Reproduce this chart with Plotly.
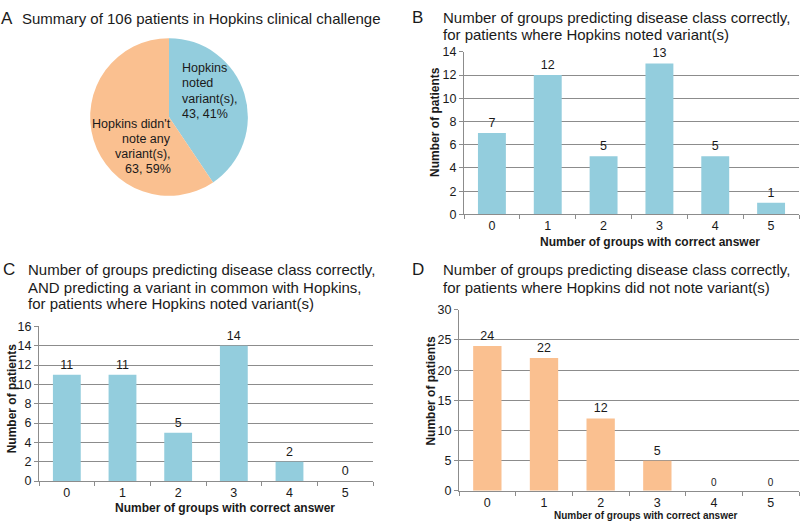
import plotly.graph_objects as go

# ---------------- data ----------------
pie_labels = ["Hopkins noted variant(s)", "Hopkins didn't note any variant(s)"]
pie_values = [43, 63]

categories = ["0", "1", "2", "3", "4", "5"]
b_values = [7, 12, 5, 13, 5, 1]
c_values = [11, 11, 5, 14, 2, 0]
d_values = [24, 22, 12, 5, 0, 0]

b_ticks = [0, 2, 4, 6, 8, 10, 12, 14]
c_ticks = [0, 2, 4, 6, 8, 10, 12, 14, 16]
d_ticks = [0, 5, 10, 15, 20, 25, 30]

BLUE = "#93CDDD"
ORANGE = "#FAC090"
GRID = "#8c8c8c"
TXT = "#1a1a1a"
FONT = "Liberation Sans, Arial, Helvetica, sans-serif"

W, H = 800, 529


def px(x):
    return x / W


def py(y):
    return 1 - y / H


fig = go.Figure()

# pie
fig.add_trace(go.Pie(
    labels=pie_labels, values=pie_values, sort=False, direction="clockwise",
    rotation=0, marker=dict(colors=[BLUE, ORANGE], line=dict(width=0)),
    textinfo="none", hoverinfo="label+value+percent", showlegend=False,
    domain=dict(x=[px(88), px(250)], y=[py(194), py(32)]),
))

# bars
def add_bar(vals, color, xa, ya, tsizes=None):
    fig.add_trace(go.Bar(
        x=categories, y=vals, marker=dict(color=color, line=dict(width=0)),
        width=0.5, text=[str(v) for v in vals], textposition="outside",
        textfont=dict(size=tsizes if tsizes else 12.5, color=TXT, family=FONT),
        cliponaxis=False, showlegend=False, xaxis=xa, yaxis=ya,
    ))

add_bar(b_values, BLUE, "x", "y")
add_bar(c_values, BLUE, "x2", "y2")
add_bar(d_values, ORANGE, "x3", "y3",
        tsizes=[12.5 if v > 0 else 10 for v in d_values])

def xaxis(domain, anchor):
    return dict(domain=domain, anchor=anchor, type="category",
                showline=True, linecolor=GRID, linewidth=1,
                ticks="outside", tickson="boundaries", ticklen=4, tickcolor=GRID,
                tickfont=dict(size=12.5, color=TXT, family=FONT),
                showgrid=False, fixedrange=True)

def yaxis(domain, anchor, rng, tv):
    return dict(domain=domain, anchor=anchor, range=rng, tickvals=tv,
                showline=True, linecolor=GRID, linewidth=1,
                ticks="outside", ticklen=4, tickcolor=GRID,
                tickfont=dict(size=12.5, color=TXT, family=FONT),
                showgrid=True, gridcolor=GRID, gridwidth=1,
                zeroline=False, fixedrange=True)

layout = dict(
    width=W, height=H, margin=dict(l=0, r=0, t=0, b=0),
    paper_bgcolor="white", plot_bgcolor="white",
    font=dict(family=FONT, color=TXT),
    bargap=0.5,
    xaxis=xaxis([px(464), px(799)], "y"),
    yaxis=yaxis([py(213), py(46)], "x", [0, 14], b_ticks),
    xaxis2=xaxis([px(39), px(373)], "y2"),
    yaxis2=yaxis([py(487), py(328)], "x2", [0, 16], c_ticks),
    xaxis3=xaxis([px(459), px(799)], "y3"),
    yaxis3=yaxis([py(497), py(311)], "x3", [0, 30], d_ticks),
)
fig.update_layout(**layout)

ann = []

def text(x, y, s, size=15, xanchor="left", bold=False, angle=0, color=TXT):
    ann.append(dict(x=px(x), y=py(y), xref="paper", yref="paper", text=("<b>%s</b>" % s) if bold else s,
                    showarrow=False, xanchor=xanchor, yanchor="middle", textangle=angle,
                    font=dict(size=size, color=color, family=FONT)))

# panel letters and titles
text(-1, 12, "A", size=17)
text(20, 12, "Summary of 106 patients in Hopkins clinical challenge")
text(410, 11, "B", size=17)
text(441, 11, "Number of groups predicting disease class correctly,")
text(441, 28, "for patients where Hopkins noted variant(s)")
text(1, 270, "C", size=17)
text(26, 270, "Number of groups predicting disease class correctly,")
text(26, 288, "AND predicting a variant in common with Hopkins,")
text(26, 305, "for patients where Hopkins noted variant(s)")
text(410, 270, "D", size=17)
text(441, 270, "Number of groups predicting disease class correctly,")
text(441, 288, "for patients where Hopkins did not note variant(s)")

# pie labels
for i, s in enumerate(["Hopkins", "noted", "variant(s),", "43, 41%"]):
    text(180, 63 + i * 15.5, s, size=12.5)
for i, s in enumerate(["Hopkins didn't", "note any", "variant(s),", "63, 59%"]):
    text(173, 120 + i * 15.5, s, size=12.5, xanchor="right")

# axis titles
text(650, 241, "Number of groups with correct answer", size=12, xanchor="center", bold=True)
text(435, 118, "Number of patients", size=12, xanchor="center", bold=True, angle=-90)
text(225, 515, "Number of groups with correct answer", size=12, xanchor="center", bold=True)
text(12, 402, "Number of patients", size=12, xanchor="center", bold=True, angle=-90)
text(645, 522, "Number of groups with correct answer", size=10, xanchor="center", bold=True)
text(431, 394, "Number of patients", size=12, xanchor="center", bold=True, angle=-90)

fig.update_layout(annotations=ann)

fig.write_html("out.html", config={"displayModeBar": False},
               post_script="document.body.style.margin='0px';document.body.style.padding='0px';")
